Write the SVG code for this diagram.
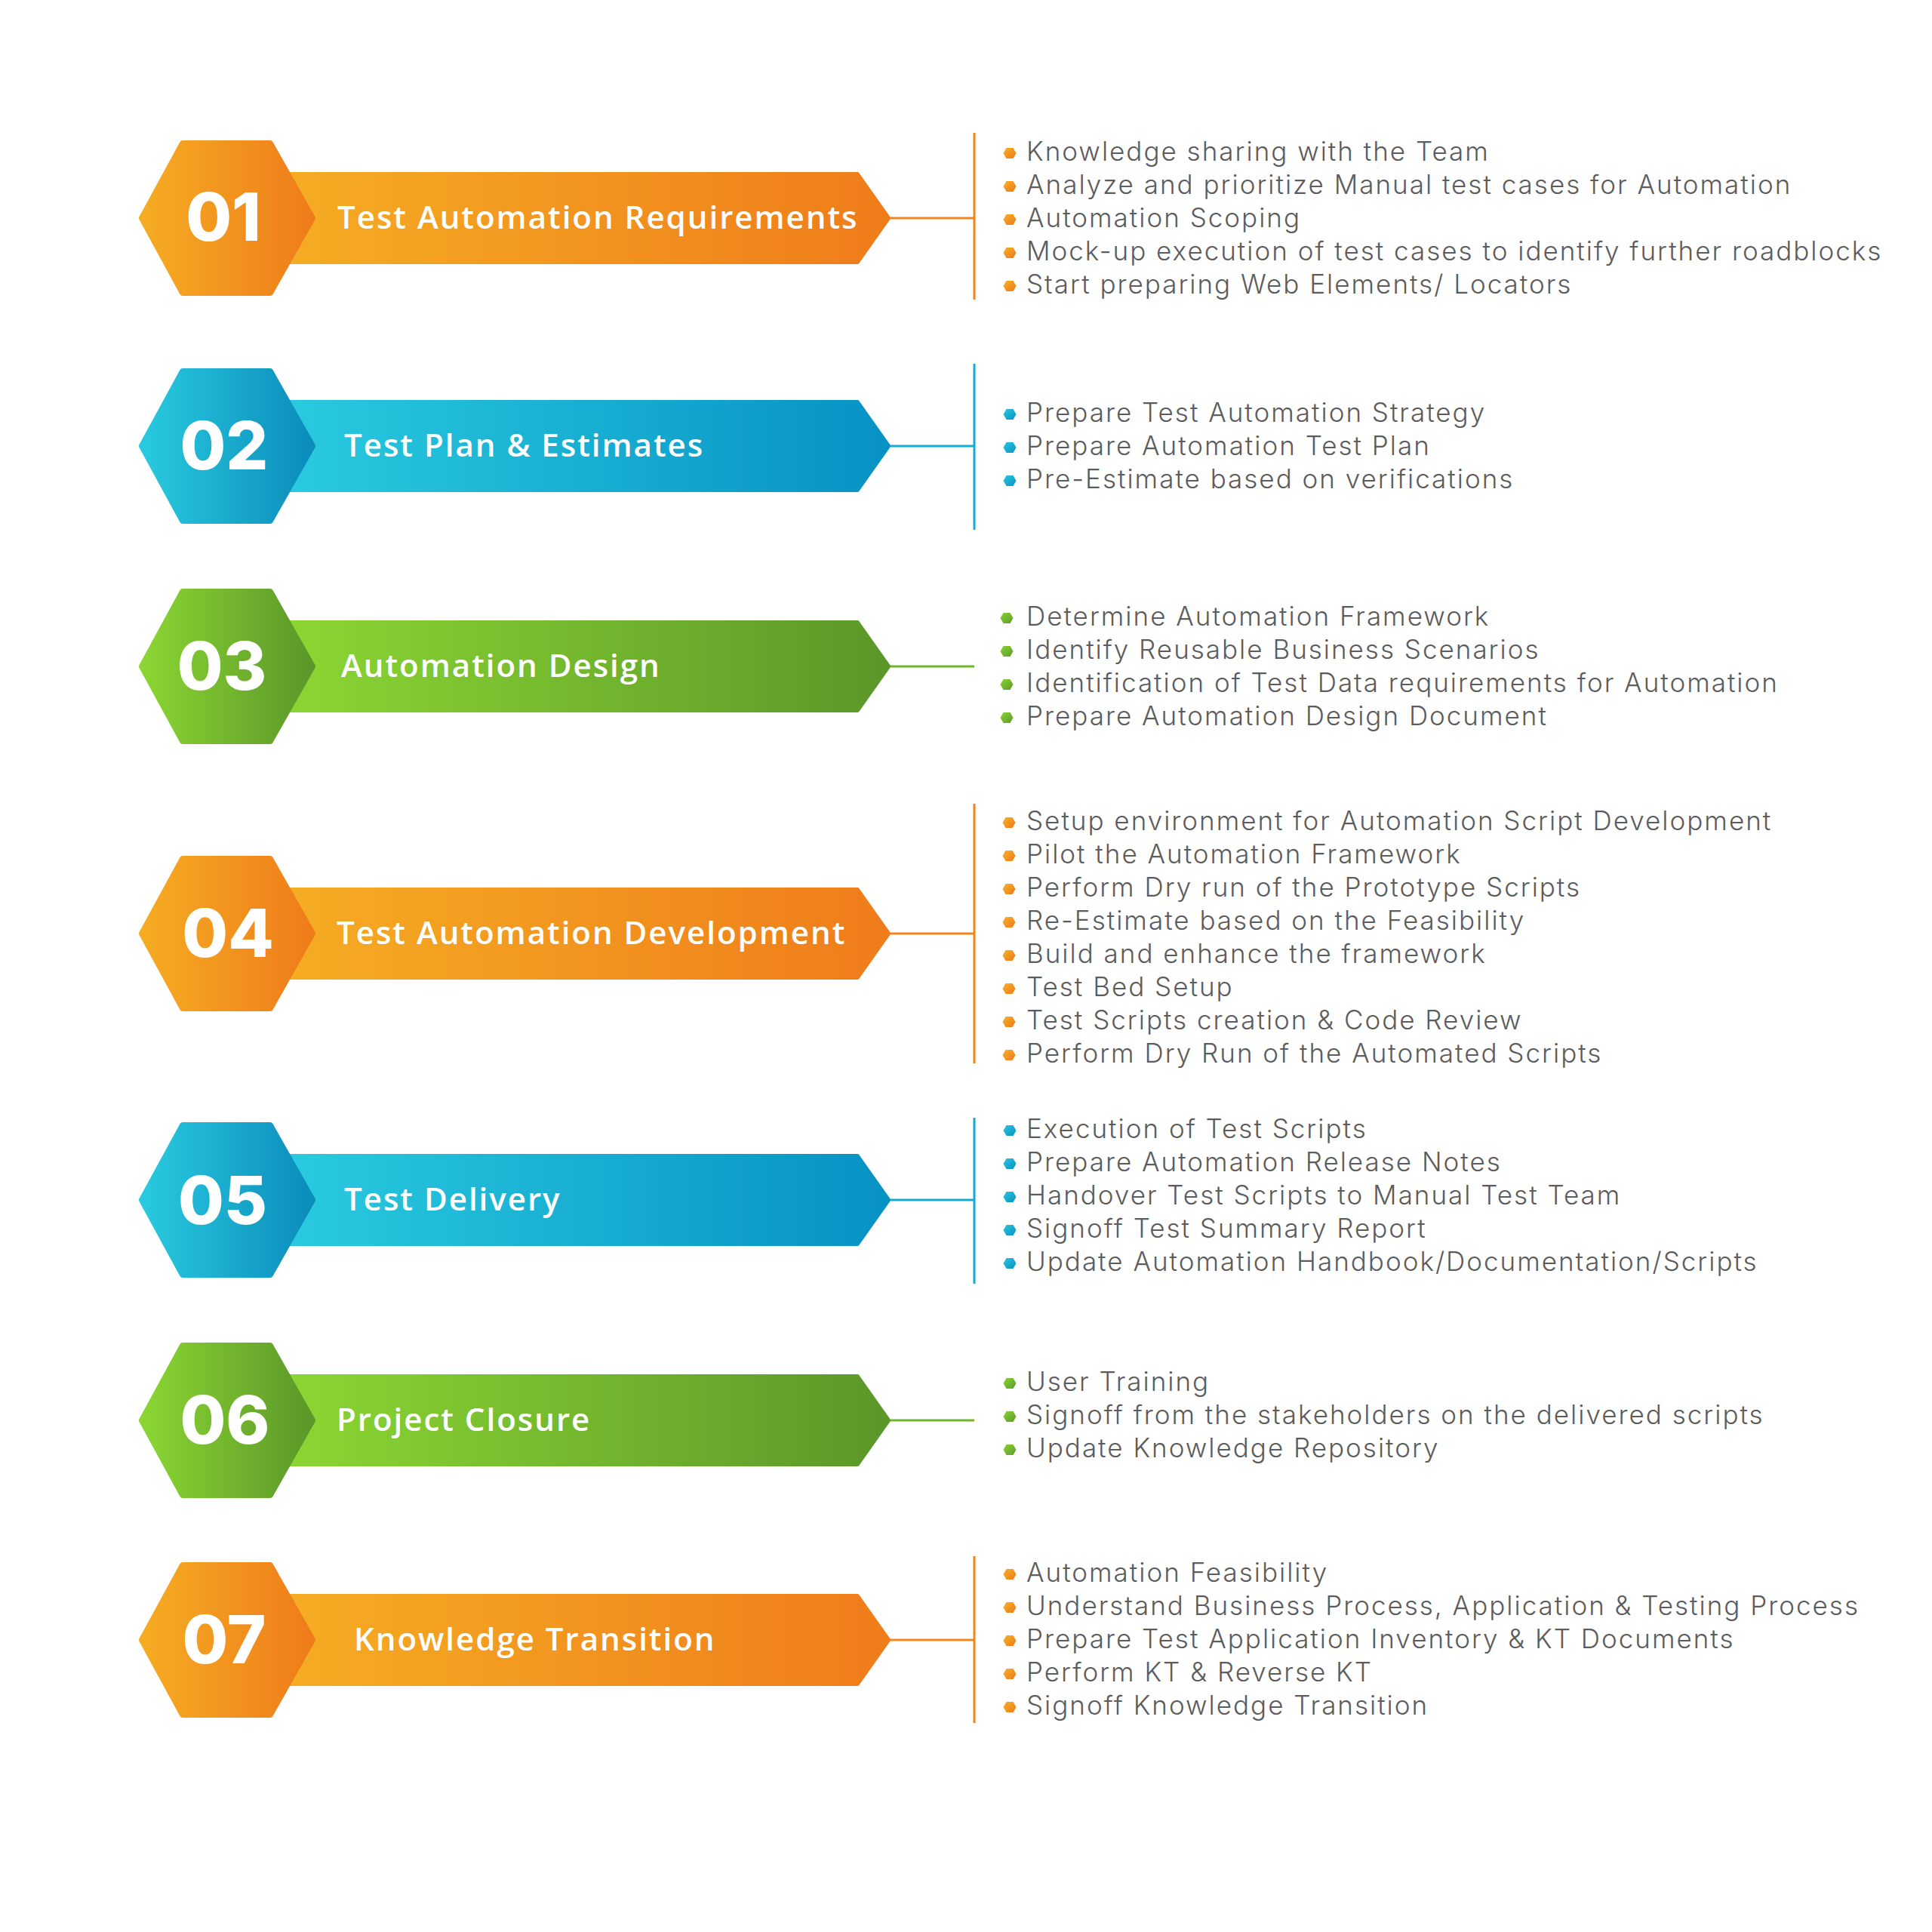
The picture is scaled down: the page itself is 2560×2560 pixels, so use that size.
<svg xmlns="http://www.w3.org/2000/svg" width="2560" height="2560" viewBox="0 0 2560 2560">
<defs>
<linearGradient id="gO" x1="0" y1="0" x2="1" y2="0"><stop offset="0" stop-color="#F5AC23"/><stop offset="1" stop-color="#EF7C1A"/></linearGradient>
<linearGradient id="gB" x1="0" y1="0" x2="1" y2="0"><stop offset="0" stop-color="#29CADF"/><stop offset="1" stop-color="#0792C4"/></linearGradient>
<linearGradient id="gG" x1="0" y1="0" x2="1" y2="0"><stop offset="0" stop-color="#8BD633"/><stop offset="1" stop-color="#5B9729"/></linearGradient>
<linearGradient id="gBh" x1="0" y1="0" x2="1" y2="0"><stop offset="0" stop-color="#29CADF"/><stop offset="1" stop-color="#0B8CBC"/></linearGradient>
<linearGradient id="bO" x1="0" y1="0" x2="1" y2="1"><stop offset="0" stop-color="#F8B02A"/><stop offset="1" stop-color="#EE7A18"/></linearGradient>
<linearGradient id="bB" x1="0" y1="0" x2="1" y2="1"><stop offset="0" stop-color="#2AC7E0"/><stop offset="1" stop-color="#0A92C2"/></linearGradient>
<linearGradient id="bG" x1="0" y1="0" x2="1" y2="1"><stop offset="0" stop-color="#8AD434"/><stop offset="1" stop-color="#5E9A2A"/></linearGradient>
<linearGradient id="lG" x1="0" y1="0" x2="0" y2="1"><stop offset="0" stop-color="#5E9A2A"/><stop offset="1" stop-color="#8BD633"/></linearGradient>
<path id="hex" d="M-59,-99 L57,-99 L113,0 L57,99 L-59,99 L-113,0 Z" stroke-width="8" stroke-linejoin="round"/>
<path id="ban" d="M380,-58 L1136,-58 L1177,0 L1136,58 L380,58 Z" stroke-width="6" stroke-linejoin="round"/>
<path id="dot" d="M-8.5,0 L-4.5,-7 L4.5,-7 L8.5,0 L4.5,7 L-4.5,7 Z"/>
</defs>
<style>
.num{font-family:Inter,"Open Sans","Liberation Sans",sans-serif;font-weight:800;font-size:88px;fill:#fff;text-anchor:middle}
.ttl{font-family:"Open Sans","Liberation Sans",sans-serif;font-weight:600;font-size:42px;letter-spacing:2px;fill:#fff}
.itm{font-family:Inter,"Open Sans","Liberation Sans",sans-serif;font-weight:300;font-size:35px;letter-spacing:2px;fill:#5c5c5c}
.lnO{stroke:#F0851C;stroke-width:3;fill:none}
.lnB{stroke:#16AAD4;stroke-width:3;fill:none}
.lnG{stroke:#72B42E;stroke-width:3;fill:none}
</style>
<rect width="2560" height="2560" fill="#fff"/>

<g id="connectors">
<path class="lnO" d="M1180,289 H1291 M1291,176 V397"/>
<path class="lnB" d="M1180,591 H1291 M1291,482 V702"/>
<path class="lnG" d="M1180,883 H1291"/><path d="M1291,772 V993" stroke="url(#lG)" stroke-width="3"/>
<path class="lnO" d="M1180,1237 H1291 M1291,1065 V1409"/>
<path class="lnB" d="M1180,1590 H1291 M1291,1481 V1701"/>
<path class="lnG" d="M1180,1882 H1291"/><path d="M1291,1772 V1992" stroke="url(#lG)" stroke-width="3"/>
<path class="lnO" d="M1180,2173 H1291 M1291,2062 V2283"/>
</g>

<g id="step01" transform="translate(0,289)">
<use href="#ban" fill="url(#gO)" stroke="url(#gO)"/>
<use href="#hex" x="301" fill="url(#gO)" stroke="url(#gO)"/>
<text class="num" x="296" y="30">01</text>
<text class="ttl" x="447" y="14">Test Automation Requirements</text>
</g>
<g id="list01" transform="translate(0,201)">
<use href="#dot" x="1338" y="2" fill="url(#bO)"/><text class="itm" x="1360" y="12">Knowledge sharing with the Team</text>
<use href="#dot" x="1338" y="46" fill="url(#bO)"/><text class="itm" x="1360" y="56">Analyze and prioritize Manual test cases for Automation</text>
<use href="#dot" x="1338" y="90" fill="url(#bO)"/><text class="itm" x="1360" y="100">Automation Scoping</text>
<use href="#dot" x="1338" y="134" fill="url(#bO)"/><text class="itm" x="1360" y="144">Mock-up execution of test cases to identify further roadblocks</text>
<use href="#dot" x="1338" y="178" fill="url(#bO)"/><text class="itm" x="1360" y="188">Start preparing Web Elements/ Locators</text>
</g>

<g id="step02" transform="translate(0,591)">
<use href="#ban" fill="url(#gB)" stroke="url(#gB)"/>
<use href="#hex" x="301" fill="url(#gBh)" stroke="url(#gBh)"/>
<text class="num" x="297" y="31">02</text>
<text class="ttl" x="456" y="14">Test Plan &amp; Estimates</text>
</g>
<g id="list02" transform="translate(0,547)">
<use href="#dot" x="1338" y="2" fill="url(#bB)"/><text class="itm" x="1360" y="12">Prepare Test Automation Strategy</text>
<use href="#dot" x="1338" y="46" fill="url(#bB)"/><text class="itm" x="1360" y="56">Prepare Automation Test Plan</text>
<use href="#dot" x="1338" y="90" fill="url(#bB)"/><text class="itm" x="1360" y="100">Pre-Estimate based on verifications</text>
</g>

<g id="step03" transform="translate(0,883)">
<use href="#ban" fill="url(#gG)" stroke="url(#gG)"/>
<use href="#hex" x="301" fill="url(#gG)" stroke="url(#gG)"/>
<text class="num" x="294" y="31">03</text>
<text class="ttl" x="452" y="14">Automation Design</text>
</g>
<g id="list03" transform="translate(0,817)">
<use href="#dot" x="1334" y="2" fill="url(#bG)"/><text class="itm" x="1360" y="12">Determine Automation Framework</text>
<use href="#dot" x="1334" y="46" fill="url(#bG)"/><text class="itm" x="1360" y="56">Identify Reusable Business Scenarios</text>
<use href="#dot" x="1334" y="90" fill="url(#bG)"/><text class="itm" x="1360" y="100">Identification of Test Data requirements for Automation</text>
<use href="#dot" x="1334" y="134" fill="url(#bG)"/><text class="itm" x="1360" y="144">Prepare Automation Design Document</text>
</g>

<g id="step04" transform="translate(0,1237)">
<use href="#ban" fill="url(#gO)" stroke="url(#gO)"/>
<use href="#hex" x="301" fill="url(#gO)" stroke="url(#gO)"/>
<text class="num" x="302" y="31">04</text>
<text class="ttl" x="446" y="14">Test Automation Development</text>
</g>
<g id="list04" transform="translate(0,1088)">
<use href="#dot" x="1337" y="2" fill="url(#bO)"/><text class="itm" x="1360" y="12">Setup environment for Automation Script Development</text>
<use href="#dot" x="1337" y="46" fill="url(#bO)"/><text class="itm" x="1360" y="56">Pilot the Automation Framework</text>
<use href="#dot" x="1337" y="90" fill="url(#bO)"/><text class="itm" x="1360" y="100">Perform Dry run of the Prototype Scripts</text>
<use href="#dot" x="1337" y="134" fill="url(#bO)"/><text class="itm" x="1360" y="144">Re-Estimate based on the Feasibility</text>
<use href="#dot" x="1337" y="178" fill="url(#bO)"/><text class="itm" x="1360" y="188">Build and enhance the framework</text>
<use href="#dot" x="1337" y="222" fill="url(#bO)"/><text class="itm" x="1360" y="232">Test Bed Setup</text>
<use href="#dot" x="1337" y="266" fill="url(#bO)"/><text class="itm" x="1360" y="276">Test Scripts creation &amp; Code Review</text>
<use href="#dot" x="1337" y="310" fill="url(#bO)"/><text class="itm" x="1360" y="320">Perform Dry Run of the Automated Scripts</text>
</g>

<g id="step05" transform="translate(0,1590)">
<use href="#ban" fill="url(#gB)" stroke="url(#gB)"/>
<use href="#hex" x="301" fill="url(#gBh)" stroke="url(#gBh)"/>
<text class="num" x="295" y="32">05</text>
<text class="ttl" x="456" y="14">Test Delivery</text>
</g>
<g id="list05" transform="translate(0,1496)">
<use href="#dot" x="1338" y="2" fill="url(#bB)"/><text class="itm" x="1360" y="12">Execution of Test Scripts</text>
<use href="#dot" x="1338" y="46" fill="url(#bB)"/><text class="itm" x="1360" y="56">Prepare Automation Release Notes</text>
<use href="#dot" x="1338" y="90" fill="url(#bB)"/><text class="itm" x="1360" y="100">Handover Test Scripts to Manual Test Team</text>
<use href="#dot" x="1338" y="134" fill="url(#bB)"/><text class="itm" x="1360" y="144">Signoff Test Summary Report</text>
<use href="#dot" x="1338" y="178" fill="url(#bB)"/><text class="itm" x="1360" y="188">Update Automation Handbook/Documentation/Scripts</text>
</g>

<g id="step06" transform="translate(0,1882)">
<use href="#ban" fill="url(#gG)" stroke="url(#gG)"/>
<use href="#hex" x="301" fill="url(#gG)" stroke="url(#gG)"/>
<text class="num" x="298" y="31">06</text>
<text class="ttl" x="446" y="14">Project Closure</text>
</g>
<g id="list06" transform="translate(0,1831)">
<use href="#dot" x="1338" y="2" fill="url(#bG)"/><text class="itm" x="1360" y="12">User Training</text>
<use href="#dot" x="1338" y="46" fill="url(#bG)"/><text class="itm" x="1360" y="56">Signoff from the stakeholders on the delivered scripts</text>
<use href="#dot" x="1338" y="90" fill="url(#bG)"/><text class="itm" x="1360" y="100">Update Knowledge Repository</text>
</g>

<g id="step07" transform="translate(0,2173)">
<use href="#ban" fill="url(#gO)" stroke="url(#gO)"/>
<use href="#hex" x="301" fill="url(#gO)" stroke="url(#gO)"/>
<text class="num" x="297" y="31">07</text>
<text class="ttl" x="469" y="14">Knowledge Transition</text>
</g>
<g id="list07" transform="translate(0,2084)">
<use href="#dot" x="1338" y="2" fill="url(#bO)"/><text class="itm" x="1360" y="12">Automation Feasibility</text>
<use href="#dot" x="1338" y="46" fill="url(#bO)"/><text class="itm" x="1360" y="56">Understand Business Process, Application &amp; Testing Process</text>
<use href="#dot" x="1338" y="90" fill="url(#bO)"/><text class="itm" x="1360" y="100">Prepare Test Application Inventory &amp; KT Documents</text>
<use href="#dot" x="1338" y="134" fill="url(#bO)"/><text class="itm" x="1360" y="144">Perform KT &amp; Reverse KT</text>
<use href="#dot" x="1338" y="178" fill="url(#bO)"/><text class="itm" x="1360" y="188">Signoff Knowledge Transition</text>
</g>
</svg>
